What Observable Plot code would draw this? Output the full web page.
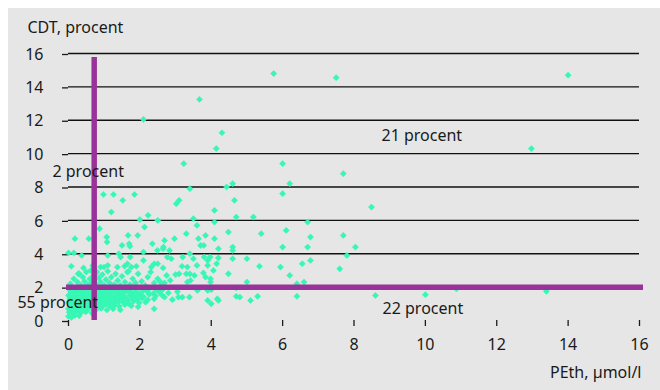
<!DOCTYPE html>
<html><head><meta charset="utf-8">
<script src="https://cdn.jsdelivr.net/npm/d3@7"></script>
<script src="https://cdn.jsdelivr.net/npm/@observablehq/plot@0.6"></script>
<style>
html,body{margin:0;padding:0;background:#fff;}
#panel{position:absolute;left:8px;top:8px;width:652px;height:382px;background:#e6e6e6;overflow:hidden;}
#panel svg{display:block;}
</style></head><body><div id="panel"></div>
<script>
// Tick values
const xTicks = [0, 2, 4, 6, 8, 10, 12, 14, 16];
const yTicks = [0, 2, 4, 6, 8, 10, 12, 14, 16];
const gridValues = [4, 6, 8, 10, 12, 14, 16];

// Cut-off values
const pethCutoff = 0.72;
const cdtCutoff = 2.0;

// Axis titles
const xTitle = "PEth, µmol/l";
const yTitle = "CDT, procent";

// Quadrant shares
const quadrantLabels = ["2 procent", "21 procent", "55 procent", "22 procent"];
const quadrantPeth = [-0.45, 8.77, -1.43, 8.8];
const quadrantCdt = [8.57, 10.78, 0.74, 0.36];

// [PEth, CDT] pairs
const denseCluster = [
  [0.02,1.9],[0.12,1.95],[0.22,1.85],[0.32,1.93],[0.42,1.88],[0.52,1.97],[0.62,1.86],[0.72,1.94],[0.82,1.89],[0.92,1.96],[1.02,1.87],[1.12,1.92],[1.22,1.98],[1.32,1.85],[1.42,1.93],[1.52,1.88],[1.62,1.95],[1.74,1.86],[1.86,1.92],[1.98,1.97],[2.12,1.88],[2.28,1.94],[2.45,1.86],
  [0.06,1.72],[0.16,1.65],[0.26,1.78],[0.36,1.68],[0.46,1.75],[0.56,1.62],[0.66,1.77],[0.76,1.66],[0.86,1.74],[0.96,1.63],[1.06,1.79],[1.16,1.69],[1.26,1.76],[1.36,1.64],[1.46,1.73],[1.56,1.67],[1.66,1.78],[1.78,1.64],[1.9,1.72],[2.04,1.66],[2.2,1.75],[2.38,1.63],[2.55,1.7],[2.8,1.65],[3.05,1.72],
  [0.0,1.5],[0.1,1.42],[0.2,1.56],[0.3,1.45],[0.4,1.53],[0.5,1.41],[0.6,1.55],[0.7,1.47],[0.8,1.52],[0.9,1.43],[1.0,1.57],[1.1,1.46],[1.2,1.51],[1.3,1.42],[1.4,1.55],[1.5,1.48],[1.6,1.4],[1.72,1.53],[1.84,1.45],[1.96,1.5],[2.1,1.42],[2.26,1.56],[2.44,1.47],[2.62,1.52],
  [0.04,1.3],[0.14,1.22],[0.24,1.35],[0.34,1.25],[0.44,1.32],[0.54,1.2],[0.64,1.36],[0.74,1.27],[0.84,1.33],[0.94,1.23],[1.04,1.37],[1.14,1.26],[1.24,1.31],[1.34,1.21],[1.44,1.34],[1.54,1.28],[1.66,1.22],[1.78,1.35],[1.92,1.26],[2.06,1.32],[2.22,1.24],[2.4,1.3],
  [0.0,1.1],[0.1,1.02],[0.2,1.15],[0.3,1.05],[0.4,1.12],[0.5,1.0],[0.6,1.16],[0.7,1.07],[0.8,1.13],[0.9,1.03],[1.0,1.17],[1.1,1.06],[1.2,1.11],[1.3,1.01],[1.42,1.14],[1.54,1.08],[1.68,1.02],[1.82,1.15],[1.98,1.05],[2.16,1.1],
  [0.04,0.9],[0.14,0.82],[0.24,0.95],[0.34,0.85],[0.44,0.92],[0.54,0.8],[0.64,0.96],[0.74,0.87],[0.84,0.93],[0.94,0.83],[1.04,0.97],[1.16,0.86],[1.28,0.91],[1.42,0.84],[1.58,0.95],[1.76,0.88],[1.95,0.82],
  [0.0,0.7],[0.1,0.62],[0.2,0.75],[0.3,0.65],[0.4,0.72],[0.52,0.6],[0.64,0.76],[0.78,0.66],[0.92,0.73],[1.08,0.63],[1.25,0.7],[1.45,0.64],
  [0.02,0.5],[0.12,0.42],[0.22,0.55],[0.34,0.45],[0.48,0.52],[0.66,0.44],
  [0.0,0.25],[0.08,0.18],[0.18,0.3],[0.3,0.28],[2.4,0.7]
];

const upperBand = [
  [0.05,2.2],[0.15,2.5],[0.25,2.3],[0.3,2.8],[0.35,2.1],[0.4,2.6],[0.45,2.35],[0.5,2.9],[0.55,2.15],[0.6,2.5],[0.62,3.0],[0.65,2.25],[0.7,2.7],[0.72,2.4],[0.78,2.15],[0.8,2.9],[0.85,2.55],[0.9,2.3],[0.95,2.75],[1.0,2.1],[1.05,2.45],[1.1,2.95],[1.15,2.25],[1.2,2.6],[1.28,2.15],[1.32,2.8],[1.38,2.4],[1.45,2.1],[1.5,2.65],[1.58,2.3],[1.65,2.9],[1.72,2.15],[1.8,2.5],[1.88,2.25],[1.95,2.8],[2.05,2.35],[2.15,2.1],[2.22,2.6],[2.3,2.9],[2.4,2.25],[2.5,2.5],[2.62,2.15],[2.75,2.7],[2.85,2.4],[0.28,2.8],[0.9,3.2],[1.1,3.3],[1.68,2.95]
];

const scatter = [
  [5.75,14.8],[7.5,14.55],[14.0,14.7],[3.67,13.25],[2.1,12.05],[4.3,11.25],[4.14,10.3],[12.97,10.3],[3.23,9.4],[6.0,9.4],[7.7,8.8],[3.4,7.9],[4.43,8.0],[4.6,8.2],[6.2,8.2],[6.0,7.6],[8.49,6.8],[4.65,7.2],
  [0.98,7.55],[1.26,7.55],[1.52,7.2],[1.85,7.55],[3.02,7.0],[3.1,7.2],[1.2,6.5],[2.23,6.3],[2.0,6.05],[2.5,6.0],[2.13,5.6],[0.87,5.5],[3.5,6.1],[4.09,6.6],[4.09,5.9],[4.7,6.2],[5.18,6.2],[3.6,5.7],[6.7,5.9],[3.3,5.2],[1.67,5.1],[1.94,5.1],[1.07,5.0],[1.08,4.7],[0.18,4.9],[0.57,4.9],[2.69,4.8],[2.97,4.9],[3.64,4.9],[3.84,5.1],[4.09,4.9],[4.48,5.3],[5.4,5.2],[6.1,5.4],[6.78,5.0],[7.7,5.1],
  [1.5,4.5],[1.7,4.6],[1.72,4.45],[2.35,4.6],[2.66,4.4],[2.83,4.2],[3.7,4.5],[3.79,4.5],[4.2,4.3],[4.6,4.4],[4.6,4.2],[6.0,4.4],[6.7,4.4],[8.04,4.4],[0.0,4.05],[0.15,4.05],
  [0.37,3.9],[1.41,4.0],[1.46,3.8],[1.1,3.9],[1.73,3.8],[2.1,4.1],[2.49,4.2],[2.65,4.3],[2.77,3.8],[2.88,3.7],[3.2,3.8],[3.4,4.0],[3.5,3.7],[3.8,3.8],[3.97,3.8],[4.2,3.75],[4.6,3.7],[5.0,3.7],[7.8,3.9],[6.78,3.6],[6.55,3.4],
  [0.08,3.25],[0.42,3.15],[0.68,3.3],[1.0,3.2],[1.37,3.2],[1.57,3.25],[1.76,3.2],[1.9,3.25],[2.1,3.6],[2.32,3.2],[2.4,3.4],[2.65,3.15],[3.18,3.25],[3.33,3.2],[3.9,3.6],[3.9,3.3],[4.15,3.4],[3.6,3.3],[5.35,3.25],[5.94,3.2],[7.6,3.1],[4.06,3.0],[0.28,2.8],[1.65,3.4],[2.5,3.4],
  [3.0,2.75],[3.1,2.8],[3.3,2.8],[3.4,2.8],[3.53,2.7],[3.78,2.85],[3.84,2.6],[3.98,2.5],[4.48,2.8],[3.33,2.3],[3.42,2.4],[3.98,2.3],[5.0,2.3],[2.58,2.3],[2.69,2.25],[6.2,2.7],[6.6,2.3],[6.4,2.2],
  [2.58,1.8],[2.66,1.9],[2.69,1.4],[2.91,1.25],[3.08,1.4],[3.19,1.4],[3.39,1.4],[3.61,1.8],[3.9,1.8],[4.0,1.85],[3.9,1.2],[4.0,1.0],[4.17,1.3],[4.2,1.2],[4.7,1.45],[4.8,1.4],[5.1,1.2],[5.3,1.45],[4.7,1.95],[6.4,1.45],[8.6,1.5],[10.0,1.55],[10.87,1.9],[13.39,1.75]
];

const points = [...denseCluster, ...upperBand, ...scatter].map(([peth, cdt]) => ({peth, cdt}));
const annotations = quadrantLabels.map((label, i) => ({label, peth: quadrantPeth[i], cdt: quadrantCdt[i]}));

const purple = "#993399";
const mint = "#36f7b4";

const chart = Plot.plot({
  width: 652,
  height: 382,
  marginLeft: 60,
  marginRight: 21,
  marginTop: 45,
  marginBottom: 70,
  style: {background: "transparent", fontFamily: "'Noto Sans', sans-serif", fontSize: "16px", color: "#1a1a1a"},
  x: {domain: [0, 16]},
  y: {domain: [0, 16]},
  marks: [
    Plot.ruleY(gridValues, {stroke: "#111", strokeWidth: 1.3}),
    Plot.axisY({ticks: yTicks, tickSize: 6, tickPadding: 19, label: null, strokeWidth: 1.3, fontSize: 16, dy: 1}),
    Plot.axisX({ticks: xTicks, tickSize: 6, tickPadding: 12, label: null, strokeWidth: 1.3, fontSize: 16}),
    Plot.dot(points, {x: "peth", y: "cdt", symbol: "diamond2", r: 2.8, fill: mint, stroke: mint, strokeWidth: 0.5}),
    Plot.ruleY([cdtCutoff], {stroke: purple, strokeWidth: 5.5, insetLeft: -2, insetRight: -4}),
    Plot.ruleX([pethCutoff], {y1: 0, y2: 16, stroke: purple, strokeWidth: 5.5, insetBottom: -4}),
    Plot.text(annotations, {x: "peth", y: "cdt", text: "label", textAnchor: "start", lineAnchor: "bottom", fontSize: 16, fill: "#1a1a1a"}),
    Plot.text([yTitle], {text: d => d, frameAnchor: "top-left", dx: -41, dy: -21, textAnchor: "start", lineAnchor: "bottom", fontSize: 16, fill: "#1a1a1a"}),
    Plot.text([xTitle], {text: d => d, frameAnchor: "bottom-right", dx: 2, dy: 57, textAnchor: "end", lineAnchor: "bottom", fontSize: 16, fill: "#1a1a1a"})
  ]
});
document.getElementById("panel").appendChild(chart);
</script>
</body></html>
